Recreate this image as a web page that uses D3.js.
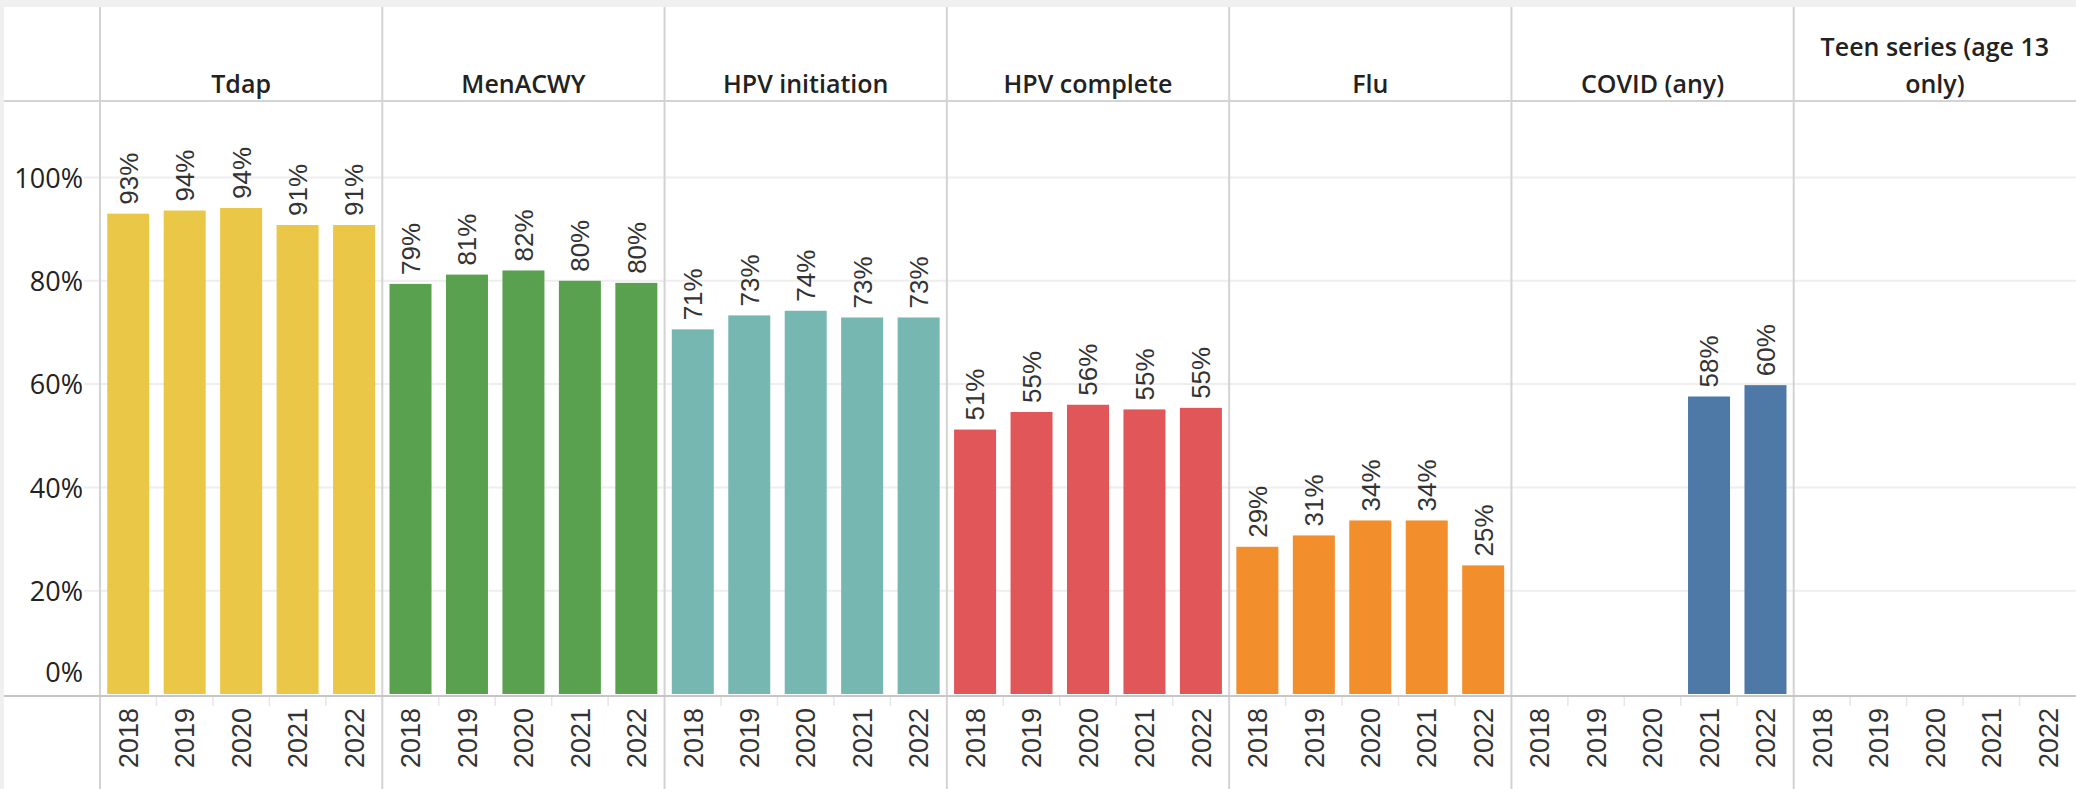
<!DOCTYPE html>
<html>
<head>
<meta charset="utf-8">
<script src="https://cdn.jsdelivr.net/npm/d3@7"></script>
<style>
  body { margin: 0; background: #fff; }
  .yl { font-family: "Open Sans", sans-serif; font-size: 27px; fill: #222; }
  .hdr { font-family: "Open Sans", sans-serif; font-weight: 600; font-size: 25px; fill: #222; }
  .yr { font-family: "Liberation Sans", Arial, sans-serif; font-size: 27px; fill: #333; }
  .val { font-family: "Liberation Sans", Arial, sans-serif; font-size: 26px; fill: #333; }
</style>
</head>
<body>
<div id="chart"></div>
<script>
// vaccines (panels) and years
const vaccines = ['Tdap', 'MenACWY', 'HPV initiation', 'HPV complete', 'Flu', 'COVID (any)', 'Teen series (age 13 only)'];
const years = ['2018', '2019', '2020', '2021', '2022'];

// percent covered (null = no bar)
const tdap     = [93.0, 93.6, 94.1, 90.8, 90.8];
const menacwy  = [79.4, 81.2, 82.0, 80.0, 79.6];
const hpvInit  = [70.6, 73.3, 74.2, 72.9, 72.9];
const hpvComp  = [51.2, 54.6, 56.0, 55.1, 55.4];
const flu      = [28.5, 30.7, 33.6, 33.6, 24.9];
const covid    = [null, null, null, 57.6, 59.8];
const teen     = [null, null, null, null, null];

const yTicks = [0, 20, 40, 60, 80, 100];
const colors = ['#EBC747', '#59A14F', '#76B7B2', '#E15759', '#F28E2B', '#4E79A7', '#BAB0AC'];

const seriesValues = [tdap, menacwy, hpvInit, hpvComp, flu, covid, teen];

const width = 2076, height = 789;
const margin = ({top: 7, left: 100, headerBottom: 101, axisY: 694});

const svg = d3.select('#chart').append('svg')
  .attr('width', width)
  .attr('height', height);

// light gray frame edges
svg.append('rect').attr('x', 0).attr('y', 0).attr('width', width).attr('height', margin.top).attr('fill', '#f0f0f0');
svg.append('rect').attr('x', 0).attr('y', 0).attr('width', 4).attr('height', height).attr('fill', '#f0f0f0');

let xPanel = d3.scaleBand().domain(vaccines).range([margin.left, width]);
let xYear = d3.scaleBand().domain(years).range([0, xPanel.bandwidth()])
  .paddingInner(0.256).paddingOuter(0.128);
let y = d3.scaleLinear().domain([0, 100]).range([margin.axisY, 177.5]);

// gridlines
svg.append('g').selectAll('line')
  .data(yTicks.filter(d => d > 0))
  .enter().append('line')
    .attr('x1', 84).attr('x2', width)
    .attr('y1', d => y(d)).attr('y2', d => y(d))
    .attr('stroke', '#eeeeee').attr('stroke-width', 2);

// y axis labels
let yAxis = d3.axisLeft(y).tickValues(yTicks).tickFormat(d => d + '%').tickSize(0).tickPadding(17);
let yg = svg.append('g').attr('transform', `translate(${margin.left},0)`).call(yAxis);
yg.select('.domain').remove();
yg.selectAll('text').attr('class', 'yl').attr('font-size', null).attr('font-family', null)
  .attr('dy', d => d === 0 ? '-0.45em' : '0.36em');

let panels = vaccines.map((v, i) => ({name: v, values: seriesValues[i], color: colors[i]}));

let panel = svg.selectAll('g.panel')
  .data(panels)
  .enter().append('g')
    .attr('class', 'panel')
    .attr('transform', d => `translate(${xPanel(d.name)},0)`);

// bars
panel.selectAll('rect.bar')
  .data(d => d.values.map((v, j) => ({year: years[j], value: v, color: d.color})).filter(e => e.value != null))
  .enter().append('rect')
    .attr('class', 'bar')
    .attr('x', d => xYear(d.year))
    .attr('width', xYear.bandwidth())
    .attr('y', d => y(d.value))
    .attr('height', d => y(0) - y(d.value))
    .attr('fill', d => d.color);

// value labels, rotated
panel.selectAll('text.val')
  .data(d => d.values.map((v, j) => ({year: years[j], value: v})).filter(e => e.value != null))
  .enter().append('text')
    .attr('class', 'val')
    .attr('text-anchor', 'start')
    .attr('transform', d => `translate(${xYear(d.year) + xYear.bandwidth() / 2},${y(d.value) - 9}) rotate(-90)`)
    .attr('dy', '0.36em')
    .text(d => Math.round(d.value) + '%');

// year axis under each panel
let xAxis = d3.axisBottom(xYear).tickSize(0).tickPadding(0);
panel.append('g')
  .attr('transform', `translate(0,${margin.axisY + 2})`)
  .call(xAxis)
  .call(g => g.select('.domain').remove())
  .selectAll('text')
    .attr('class', 'yr').attr('font-size', null).attr('font-family', null)
    .attr('text-anchor', 'end')
    .attr('transform', 'rotate(-90)')
    .attr('x', -12).attr('y', 0).attr('dy', '0.36em');

// faint separators between years below the axis
panel.selectAll('line.sep')
  .data(years.slice(1))
  .enter().append('line')
    .attr('x1', d => xYear(d) - xYear.step() * xYear.paddingInner() / 2)
    .attr('x2', d => xYear(d) - xYear.step() * xYear.paddingInner() / 2)
    .attr('y1', margin.axisY + 3).attr('y2', margin.axisY + 12)
    .attr('stroke', '#e6e6e6').attr('stroke-width', 1.5);

// headers, wrapped to panel width
panel.append('text')
  .attr('class', 'hdr')
  .attr('text-anchor', 'middle')
  .attr('x', xPanel.bandwidth() / 2)
  .each(function(d) {
    let t = d3.select(this), words = d.name.split(' '), lines = [], line = [];
    words.forEach(w => {
      t.text(line.concat(w).join(' '));
      if (this.getComputedTextLength() > xPanel.bandwidth() - 20 && line.length) {
        lines.push(line.join(' '));
        line = [w];
      } else line.push(w);
    });
    lines.push(line.join(' '));
    t.text(null);
    lines.forEach((l, k) => {
      t.append('tspan')
        .attr('x', xPanel.bandwidth() / 2)
        .attr('y', 93 - (lines.length - 1 - k) * 37)
        .text(l);
    });
  });

// panel dividers, header rule and axis rule
svg.append('g').selectAll('line')
  .data(vaccines)
  .enter().append('line')
    .attr('x1', d => xPanel(d)).attr('x2', d => xPanel(d))
    .attr('y1', margin.top).attr('y2', height)
    .attr('stroke', '#d3d3d3').attr('stroke-width', 2);

svg.append('line')
  .attr('x1', 4).attr('x2', width)
  .attr('y1', margin.headerBottom).attr('y2', margin.headerBottom)
  .attr('stroke', '#d3d3d3').attr('stroke-width', 2);

svg.append('line')
  .attr('x1', 4).attr('x2', width)
  .attr('y1', y(0) + 2).attr('y2', y(0) + 2)
  .attr('stroke', '#c6c6c6').attr('stroke-width', 2);
</script>
</body>
</html>
